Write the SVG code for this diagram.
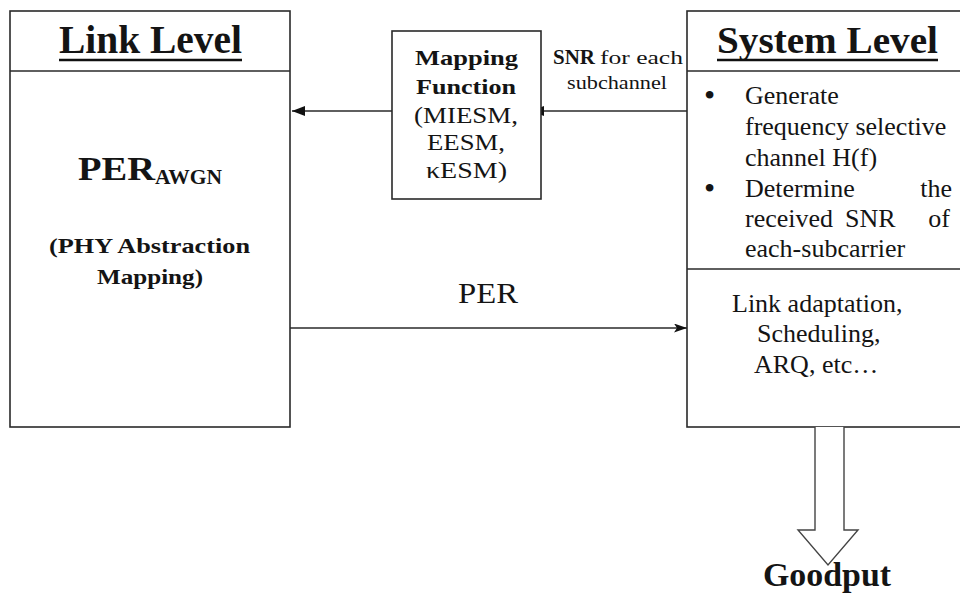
<svg xmlns="http://www.w3.org/2000/svg" width="960" height="593" viewBox="0 0 960 593">
<style>
.box{fill:#fff;stroke:#2a2a2a;stroke-width:1.6}
.ln{stroke:#2a2a2a;stroke-width:1.6;fill:none}
.ul{stroke:#111;stroke-width:2.4}
text{font-family:"Liberation Serif","Times New Roman",serif;fill:#141414}
.b{font-weight:bold}
.t{font-size:26px}
.bl{font-size:32px}
</style>
<defs>
<marker id="tri" viewBox="0 0 13 10" refX="13" refY="5" markerWidth="13" markerHeight="10" markerUnits="userSpaceOnUse" orient="auto">
<path d="M0,0 L13,5 L0,10 Z" fill="#111"/>
</marker>
<marker id="stl" viewBox="0 0 13 9" refX="13" refY="4.5" markerWidth="13" markerHeight="9" markerUnits="userSpaceOnUse" orient="auto">
<path d="M0,0 L13,4.5 L0,9 L3,4.5 Z" fill="#111"/>
</marker>
</defs>
<g id="connectors">
<line class="ln" x1="687" y1="111" x2="531" y2="111" marker-end="url(#tri)"/>
<line class="ln" x1="392" y1="111" x2="292" y2="111" marker-end="url(#tri)"/>
<line class="ln" x1="290" y1="328" x2="687" y2="328" marker-end="url(#stl)"/>
<text x="553" y="64" font-size="21" class="b" textLength="42" lengthAdjust="spacingAndGlyphs">SNR</text>
<text x="600" y="64" font-size="19" textLength="83" lengthAdjust="spacingAndGlyphs">for each</text>
<text x="567" y="89" font-size="19" textLength="100" lengthAdjust="spacingAndGlyphs">subchannel</text>
<text x="458" y="303" font-size="30" textLength="60" lengthAdjust="spacingAndGlyphs">PER</text>
</g>
<g id="link-level">
<rect class="box" x="10" y="11" width="280" height="416"/>
<line class="ln" x1="10" y1="71" x2="290" y2="71"/>
<text class="b" x="59" y="53" font-size="39" textLength="183" lengthAdjust="spacingAndGlyphs">Link Level</text>
<line class="ul" x1="59" y1="60" x2="242" y2="60"/>
<text class="b" x="78" y="180" font-size="33" textLength="77" lengthAdjust="spacingAndGlyphs">PER</text>
<text class="b" x="155" y="184" font-size="22" textLength="67" lengthAdjust="spacingAndGlyphs">AWGN</text>
<text class="b" x="49" y="253" font-size="22" textLength="201" lengthAdjust="spacingAndGlyphs">(PHY Abstraction</text>
<text class="b" x="97" y="284" font-size="22" textLength="106" lengthAdjust="spacingAndGlyphs">Mapping)</text>
</g>
<g id="mapping-function">
<rect class="box" x="392" y="31" width="149" height="168"/>
<text class="b" x="415" y="65" font-size="22" textLength="103" lengthAdjust="spacingAndGlyphs">Mapping</text>
<text class="b" x="416" y="94" font-size="22" textLength="100" lengthAdjust="spacingAndGlyphs">Function</text>
<text x="414" y="123" font-size="23" textLength="104" lengthAdjust="spacingAndGlyphs">(MIESM,</text>
<text x="427" y="150" font-size="23" textLength="78" lengthAdjust="spacingAndGlyphs">EESM,</text>
<text x="426" y="178" font-size="23" textLength="81" lengthAdjust="spacingAndGlyphs">κESM)</text>
</g>
<g id="system-level">
<rect class="box" x="687" y="11" width="290" height="416"/>
<line class="ln" x1="687" y1="71" x2="960" y2="71"/>
<line class="ln" x1="687" y1="269" x2="960" y2="269"/>
<text class="b" x="717" y="53" font-size="38" textLength="221" lengthAdjust="spacingAndGlyphs">System Level</text>
<line class="ul" x1="717" y1="60" x2="938" y2="60"/>
<text class="bl" x="704" y="106">•</text>
<text class="bl" x="704" y="199">•</text>
<g class="t">
<text x="745" y="104">Generate</text>
<text x="745" y="135">frequency selective</text>
<text x="745" y="166">channel H(f)</text>
<text x="745" y="197">Determine</text>
<text x="952" y="197" text-anchor="end">the</text>
<text x="745" y="227">received</text>
<text x="845" y="227">SNR</text>
<text x="950" y="227" text-anchor="end">of</text>
<text x="745" y="257">each-subcarrier</text>
<text x="732" y="312">Link adaptation,</text>
<text x="757" y="342">Scheduling,</text>
<text x="754" y="373">ARQ, etc…</text>
</g>
</g>
<g id="goodput">
<path d="M815,427 L815,530 L798,530 L828,565 L858,530 L844,530 L844,427" fill="#fff" stroke="#444" stroke-width="1.4"/>
<text class="b" x="763" y="586" font-size="34" textLength="128" lengthAdjust="spacingAndGlyphs">Goodput</text>
</g>
</svg>
